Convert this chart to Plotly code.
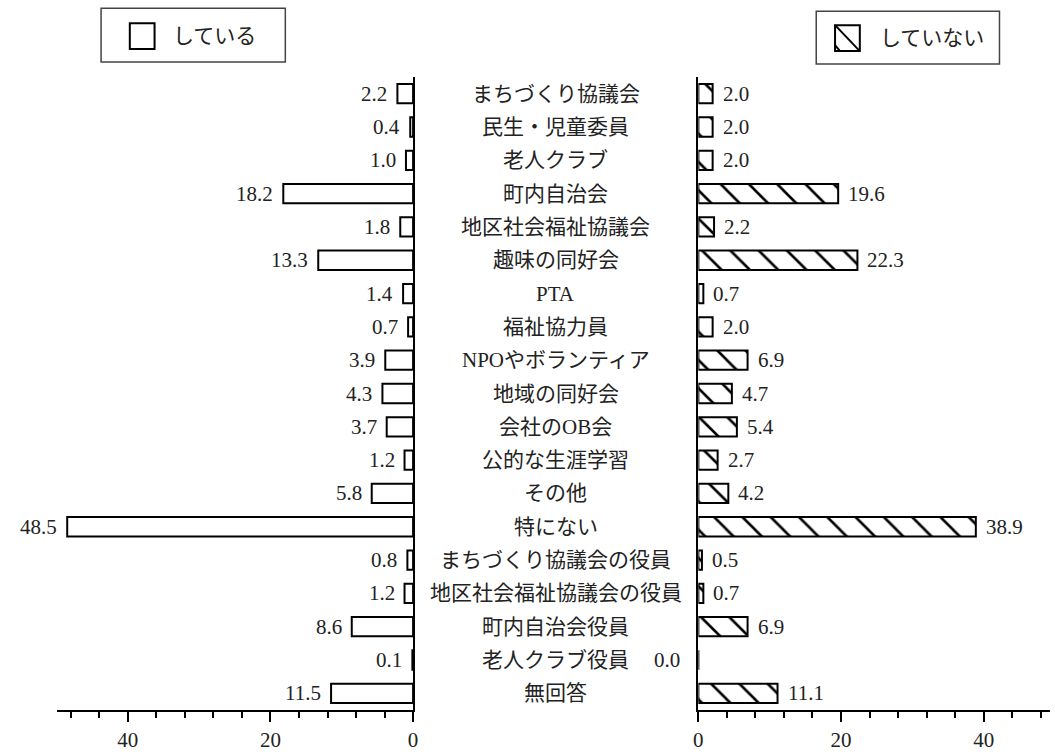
import plotly.graph_objects as go
from plotly.subplots import make_subplots

# data (top to bottom)
categories = ["まちづくり協議会", "民生・児童委員", "老人クラブ", "町内自治会", "地区社会福祉協議会",
              "趣味の同好会", "PTA", "福祉協力員", "NPOやボランティア", "地域の同好会",
              "会社のOB会", "公的な生涯学習", "その他", "特にない", "まちづくり協議会の役員",
              "地区社会福祉協議会の役員", "町内自治会役員", "老人クラブ役員", "無回答"]
doing = [2.2, 0.4, 1.0, 18.2, 1.8, 13.3, 1.4, 0.7, 3.9, 4.3, 3.7, 1.2, 5.8, 48.5, 0.8, 1.2, 8.6, 0.1, 11.5]
not_doing = [2.0, 2.0, 2.0, 19.6, 2.2, 22.3, 0.7, 2.0, 6.9, 4.7, 5.4, 2.7, 4.2, 38.9, 0.5, 0.7, 6.9, 0.0, 11.1]
legend_left = "している"
legend_right = "していない"

W, H = 1055, 752
SERIF = "Liberation Serif, Noto Sans CJK JP"
TXT = "#222222"
FS = 21

fig = make_subplots(rows=1, cols=2, shared_yaxes=False, horizontal_spacing=0.1)

fig.add_trace(go.Bar(x=doing, y=categories, orientation="h", name=legend_left,
                     marker=dict(color="white", line=dict(color="black", width=2)),
                     showlegend=False, hoverinfo="x+y"), row=1, col=1)
fig.add_trace(go.Bar(x=not_doing, y=categories, orientation="h", name=legend_right,
                     marker=dict(color="white", line=dict(color="black", width=2),
                                 pattern=dict(shape="\\", fgcolor="black", bgcolor="white",
                                              size=20, solidity=0.13, fillmode="replace")),
                     showlegend=False, hoverinfo="x+y"), row=1, col=2)

n = len(categories)
yax = dict(type="category", categoryorder="array", categoryarray=categories,
           range=[n - 0.5, -0.5], showticklabels=False, showgrid=False, zeroline=False,
           showline=True, linecolor="black", linewidth=2, ticks="")
xax = dict(showgrid=False, zeroline=False, showline=True, linecolor="black", linewidth=2,
           ticks="outside", dtick=20, tick0=0, ticklen=10, tickwidth=2, tickcolor="black",
           minor=dict(dtick=4, tick0=0, ticks="outside", ticklen=6, tickwidth=1.5, tickcolor="black"),
           tickfont=dict(family=SERIF, size=FS, color=TXT))

fig.update_layout(
    width=W, height=H,
    margin=dict(l=0, r=0, t=77, b=40),
    plot_bgcolor="white", paper_bgcolor="white",
    bargap=0.42,
    font=dict(family=SERIF, size=FS, color=TXT),
    xaxis=dict(xax, domain=[52 / W, 412 / W], range=[50, 0]),
    xaxis2=dict(xax, domain=[700 / W, 1.0], range=[0, 49.3]),
    yaxis=dict(yax, side="right", anchor="x"),
    yaxis2=dict(yax, side="left", anchor="x2"),
)

# category labels in the middle
for c in categories:
    fig.add_annotation(x=556 / W, xref="paper", y=c, yref="y", text=c, showarrow=False,
                       xanchor="center", yanchor="middle", font=dict(family=SERIF, size=FS, color=TXT))

# value labels
for c, v in zip(categories, doing):
    fig.add_annotation(x=v, xref="x", y=c, yref="y", text=f"{v:.1f}", showarrow=False,
                       xanchor="right", yanchor="middle", xshift=-8,
                       font=dict(family=SERIF, size=FS, color=TXT))
for c, v in zip(categories, not_doing):
    if v == 0:
        fig.add_annotation(x=0, xref="x2", y=c, yref="y2", text=f"{v:.1f}", showarrow=False,
                           xanchor="right", yanchor="middle", xshift=-16,
                           font=dict(family=SERIF, size=FS, color=TXT))
    else:
        fig.add_annotation(x=v, xref="x2", y=c, yref="y2", text=f"{v:.1f}", showarrow=False,
                           xanchor="left", yanchor="middle", xshift=8,
                           font=dict(family=SERIF, size=FS, color=TXT))

# legend boxes drawn by hand
def py(p):
    return (712 - p) / 635

def px(p):
    return p / W

box = dict(type="rect", xref="paper", yref="paper", line=dict(color="#444444", width=1.5), fillcolor="white")
fig.add_shape(box, x0=px(97), x1=px(283), y0=py(62), y1=py(8))
fig.add_shape(box, x0=px(819), x1=px(1004), y0=py(64), y1=py(11))
sw = dict(type="rect", xref="paper", yref="paper", line=dict(color="black", width=2), fillcolor="white")
fig.add_shape(sw, x0=px(126), x1=px(151), y0=py(49), y1=py(23))
fig.add_shape(sw, x0=px(838), x1=px(863), y0=py(51), y1=py(25))
ln = dict(type="line", xref="paper", yref="paper", line=dict(color="black", width=2))
fig.add_shape(ln, x0=px(838), x1=px(863), y0=py(25), y1=py(51))
fig.add_shape(ln, x0=px(838), x1=px(843), y0=py(45), y1=py(51))
fig.add_annotation(x=px(168), y=py(36), xref="paper", yref="paper", text=legend_left, showarrow=False,
                   xanchor="left", yanchor="middle", font=dict(family=SERIF, size=FS, color=TXT))
fig.add_annotation(x=px(881), y=py(38), xref="paper", yref="paper", text=legend_right, showarrow=False,
                   xanchor="left", yanchor="middle", font=dict(family=SERIF, size=FS, color=TXT))

fig.write_html("out.html", config={"displayModeBar": False},
               post_script="document.body.style.margin='0';")
